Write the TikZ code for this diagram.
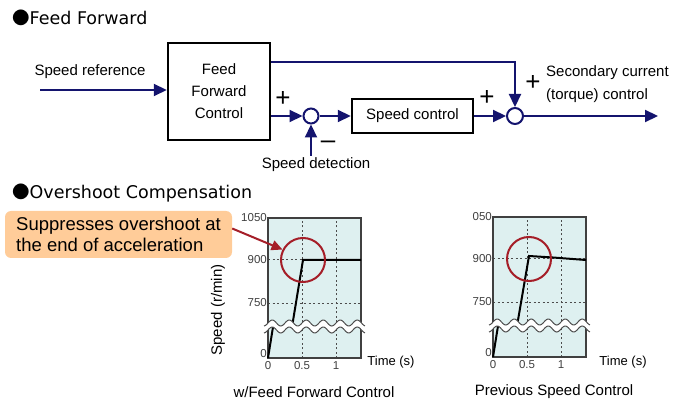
\documentclass[tikz,border=0pt]{standalone}
\usepackage{fontspec}
\setmainfont{Liberation Sans}
\newfontfamily\titlefont{DejaVu Sans}
\newfontfamily\cjkfont{Noto Sans CJK JP}
\usetikzlibrary{arrows.meta}
\definecolor{line blue}{RGB}{20,20,110}
\definecolor{ring red}{RGB}{165,30,40}
\definecolor{note orange}{RGB}{255,204,153}
\definecolor{plot bg}{RGB}{222,240,240}
\tikzstyle{sum} = [circle, draw=line blue, line width=2pt, fill=white, minimum size=15pt, inner sep=0pt]
\tikzset{block/.style={draw=black, line width=2.5pt, align=center, inner sep=2pt},
    flow/.style={draw=line blue, line width=2.2pt, -{Triangle[length=13pt,width=12pt]}},
    txt/.style={inner sep=0pt, font=\fontsize{15}{22}\selectfont},
    sign/.style={inner sep=0pt, font=\fontsize{26}{26}\selectfont},
    heading/.style={inner sep=0pt, anchor=base west, font=\fontsize{17.5}{20}\selectfont},
    tick/.style={inner sep=1pt, text=black!75, font=\fontsize{11.5}{12}\selectfont},
    grid line/.style={black!70, line width=1pt, dash pattern=on 2pt off 2.5pt},
    speed line/.style={black, line width=2pt},
    frame/.style={draw=black!75, line width=1.2pt},
    wave/.style={black!70, line width=1pt},
    ring/.style={circle, draw=ring red, line width=2pt, minimum size=44pt, inner sep=0pt},
    pointer/.style={draw=ring red, line width=2pt, -{Triangle[length=11pt,width=10pt]}}}

\begin{document}
\begin{tikzpicture}[x=1pt, y=-1pt]
    \useasboundingbox (0,0) rectangle (689,401);
    % Definition of chart parts
    \def\chartframe{(0,0) rectangle (93,140)}
    \def\waveband{plot[domain=-4:97, samples=80] (\x,{35+3*sin(\x*21.18)}) -- plot[domain=97:-4, samples=80] (\x,{28+3*sin(\x*21.18)}) -- cycle}
    \def\wavelines{plot[domain=-4:97, samples=80] (\x,{35+3*sin(\x*21.18)}) plot[domain=-4:97, samples=80] (\x,{28+3*sin(\x*21.18)})}
    %
    % Feed forward block diagram
    \node[heading] (titleA) at (12,25) {{\cjkfont ●}\titlefont Feed Forward};
    \node[block, minimum width=102pt, minimum height=97pt, txt] (ff) at (219,91.5) {Feed\\Forward\\Control};
    \node[sum] (sumA) at (311,116) {};
    \node[block, minimum width=121pt, minimum height=34pt, txt] (sc) at (412.5,116) {Speed control};
    \node[sum, minimum size=16pt] (sumB) at (515,116) {};
    \coordinate (in) at (40,90);
    \coordinate (fb) at (311,156);
    \coordinate (out) at (658,116);
    \draw[flow] (in) -- (in -| ff.west);
    \draw[flow] (ff.east |- sumA) -- (sumA.west);
    \draw[flow] (fb) -- (sumA.south);
    \draw[flow] (sumA.east) -- (sc.west);
    \draw[flow] (sc.east) -- (sumB.west);
    \draw[flow] ([yshift=29.5pt]ff.east) -| (sumB.north);
    \draw[flow] (sumB.east) -- (out);
    \node[txt] (ref) at (90,72) {Speed reference};
    \node[txt] (det) at (316,165) {Speed detection};
    \node[txt, anchor=west, align=left, font=\fontsize{15}{23}\selectfont] (sec) at (546,84.5) {Secondary current\\(torque) control};
    \node[sign] (plusA) at (283,99) {+};
    \node[sign] (minusA) at (328,145) {–};
    \node[sign] (plusB) at (487,98) {+};
    \node[sign] (plusC) at (533,83) {+};
    %
    % Overshoot compensation charts
    \node[heading] (titleB) at (12,199) {{\cjkfont ●}\titlefont Overshoot Compensation};
    \node[fill=note orange, rounded corners=6pt, minimum width=227pt, minimum height=47pt, inner xsep=10pt, align=left, font=\fontsize{18.5}{21}\selectfont] (note) at (118.5,234.5) {Suppresses overshoot at\\the end of acceleration};
    \begin{scope}[shift={(268,358)}, yscale=-1]
        \fill[plot bg] \chartframe;
        \draw[grid line] (34,0) -- (34,140) (68,0) -- (68,140) (0,55) -- (93,55) (0,98) -- (93,98);
        \draw[frame] \chartframe;
        \draw[speed line] (0,0) -- (5,31);
        \draw[speed line] (24,31) -- (35,98) -- (93,98);
        \fill[white] \waveband;
        \draw[wave] \wavelines;
        \node[ring] (ringA) at (35,98) {};
        \node[tick, anchor=east] (yA1) at (0,140) {1050};
        \node[tick, anchor=east] (yA2) at (0,98) {900};
        \node[tick, anchor=east] (yA3) at (0,55) {750};
        \node[tick, anchor=east] (yA4) at (0,4) {0};
        \node[tick, anchor=north] (xA1) at (0,-2) {0};
        \node[tick, anchor=north] (xA2) at (34,-2) {0.5};
        \node[tick, anchor=north] (xA3) at (68,-2) {1};
    \end{scope}
    \begin{scope}[shift={(493,357)}, yscale=-1]
        \fill[plot bg] \chartframe;
        \draw[grid line] (34,0) -- (34,140) (68,0) -- (68,140) (0,55) -- (93,55) (0,98) -- (93,98);
        \draw[frame] \chartframe;
        \draw[speed line] (0,0) -- (5,31);
        \draw[speed line] (24,31) -- (36,101) -- (60,99.5) -- (93,97);
        \fill[white] \waveband;
        \draw[wave] \wavelines;
        \node[ring] (ringB) at (36,98) {};
        \node[tick, anchor=east] (yB1) at (0,140) {050};
        \node[tick, anchor=east] (yB2) at (0,98) {900};
        \node[tick, anchor=east] (yB3) at (0,55) {750};
        \node[tick, anchor=east] (yB4) at (0,4) {0};
        \node[tick, anchor=north] (xB1) at (0,-2) {0};
        \node[tick, anchor=north] (xB2) at (34,-2) {0.5};
        \node[tick, anchor=north] (xB3) at (68,-2) {1};
    \end{scope}
    \draw[pointer] ([yshift=6pt]note.east) -- (ringA.153);
    \node[txt, rotate=90] (axis) at (218,310) {Speed (r/min)};
    \node[txt, font=\fontsize{13}{15}\selectfont] (timeA) at (391,362) {Time (s)};
    \node[txt, font=\fontsize{13}{15}\selectfont] (timeB) at (623,362) {Time (s)};
    \node[txt] (capA) at (314,392) {w/Feed Forward Control};
    \node[txt] (capB) at (554,392) {Previous Speed Control};
\end{tikzpicture}
\end{document}
